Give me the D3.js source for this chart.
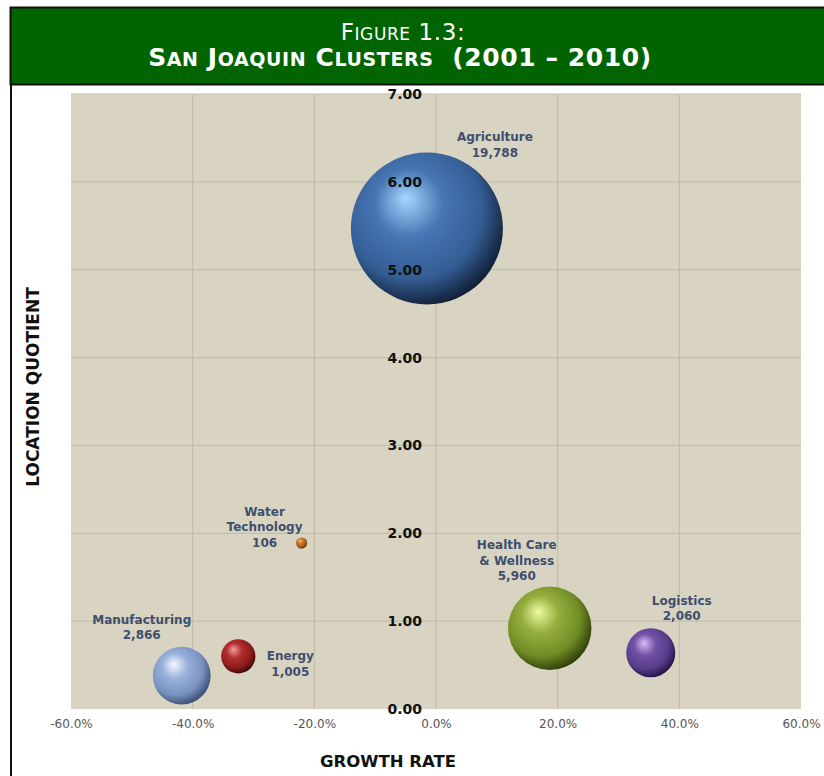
<!DOCTYPE html>
<html>
<head>
<meta charset="utf-8">
<script src="https://cdnjs.cloudflare.com/ajax/libs/d3/7.8.5/d3.min.js"></script>
<style>
  html, body { margin: 0; padding: 0; background: #fff; }
  svg { display: block; }
</style>
</head>
<body>
<svg id="chart" width="824" height="776"></svg>
<script>
// ---- data ----
const clusters = ["Agriculture", "Water Technology", "Manufacturing", "Energy", "Health Care & Wellness", "Logistics"];
const labelLines = [["Agriculture"], ["Water", "Technology"], ["Manufacturing"], ["Energy"], ["Health Care", "& Wellness"], ["Logistics"]];
const growthRate = [-0.015, -0.221, -0.418, -0.325, 0.187, 0.353];
const locationQuotient = [5.47, 1.89, 0.38, 0.60, 0.92, 0.64];
const employment = [19788, 106, 2866, 1005, 5960, 2060];
const xTicks = [-0.6, -0.4, -0.2, 0, 0.2, 0.4, 0.6];
const yTicks = [0, 1, 2, 3, 4, 5, 6, 7];
const bubbleColors = [
  ["#a6d6ff", "#4676b4", "#345d94", "#0e1a2e"],
  ["#f8c080", "#d07a2c", "#a85c18", "#4a2404"],
  ["#f4f8ff", "#98b0da", "#7a92c0", "#36466a"],
  ["#f4a0a0", "#b42e2e", "#8e1c1c", "#3a0606"],
  ["#eefaa0", "#94ae3e", "#728c26", "#283806"],
  ["#d8bcf6", "#7252a6", "#583c8a", "#200e40"]
];
// label anchor offsets relative to bubble centre (px)
const labelPos = [
  {dx: 68, dy: -87},
  {dx: -37, dy: -27},
  {dx: -40, dy: -52},
  {dx: 52, dy: 4},
  {dx: -33, dy: -79},
  {dx: 31, dy: -48}
];

const svg = d3.select("#chart");
const font = "'DejaVu Sans', Verdana, sans-serif";

// ---- header ----
svg.append("rect").attr("x", 10.5).attr("y", 7.5).attr("width", 820).attr("height", 77)
  .attr("fill", "#006400").attr("stroke", "#111").attr("stroke-width", 2);
svg.append("line").attr("x1", 11).attr("x2", 11).attr("y1", 85).attr("y2", 776)
  .attr("stroke", "#111").attr("stroke-width", 2);

function smallCaps(sel, str, big, small) {
  const runs = str.match(/[a-z]+|[^a-z]+/g);
  runs.forEach(run => {
    const isLower = /^[a-z]/.test(run);
    sel.append("tspan").style("font-size", (isLower ? small : big) + "px")
      .text(isLower ? run.toUpperCase() : run);
  });
}
const t1 = svg.append("text").attr("x", 403).attr("y", 40).attr("text-anchor", "middle")
  .attr("fill", "#fff").style("font-family", font)
  .style("letter-spacing", "0.6px");
smallCaps(t1, "Figure 1.3:", 23, 17);
const t2 = svg.append("text").attr("x", 400).attr("y", 66).attr("text-anchor", "middle")
  .attr("fill", "#fff").style("font-family", font).style("font-weight", "bold")
  .style("letter-spacing", "0.6px").style("white-space", "pre");
smallCaps(t2, "San Joaquin Clusters  (2001 \u2013 2010)", 25, 19);

// ---- plot ----
const pLeft = 71, pRight = 801, pTop = 94, pBottom = 709;
const x = d3.scaleLinear().domain([-0.6, 0.6]).range([pLeft, pRight]);
const y = d3.scaleLinear().domain([0, 7]).range([pBottom, pTop]);
const r = d3.scaleSqrt().domain([0, d3.max(employment)]).range([0, 76]);

svg.append("rect").attr("x", pLeft).attr("y", pTop).attr("width", pRight - pLeft).attr("height", pBottom - pTop)
  .attr("fill", "#d9d4c2");

const g = svg.append("g");
g.selectAll(".vgrid").data(xTicks.slice(1, -1)).join("line")
  .attr("x1", d => x(d)).attr("x2", d => x(d)).attr("y1", pTop).attr("y2", pBottom)
  .attr("stroke", "#c2beac").attr("stroke-width", 1.2);
g.selectAll(".hgrid").data(yTicks.slice(1)).join("line")
  .attr("x1", pLeft).attr("x2", pRight).attr("y1", d => y(d)).attr("y2", d => y(d))
  .attr("stroke", "#c2beac").attr("stroke-width", 1.2);

// x tick labels
const pct = d => d3.format(".1%")(d).replace("\u2212", "-");
const xAxis = d3.axisBottom(x).tickValues(xTicks).tickFormat(pct).tickSize(0).tickPadding(10);
const xg = svg.append("g").attr("transform", `translate(0,${pBottom})`).call(xAxis);
xg.select(".domain").remove();
xg.selectAll("text").attr("fill", "#555").style("font-family", font).style("font-size", "12px");

// gradients
const defs = svg.append("defs");
bubbleColors.forEach((c, i) => {
  const gr = defs.append("radialGradient").attr("id", "grad" + i)
    .attr("cx", "0.42").attr("cy", "0.4").attr("r", "0.64").attr("fx", "0.36").attr("fy", "0.3");
  gr.append("stop").attr("offset", "0%").attr("stop-color", c[0]);
  gr.append("stop").attr("offset", "35%").attr("stop-color", c[1]);
  gr.append("stop").attr("offset", "72%").attr("stop-color", c[2]);
  gr.append("stop").attr("offset", "100%").attr("stop-color", c[3]);
});

const data = clusters.map((name, i) => ({
  name, i, gx: growthRate[i], lq: locationQuotient[i], emp: employment[i], lines: labelLines[i]
}));

svg.append("g").selectAll("circle").data(data).join("circle")
  .attr("cx", d => x(d.gx)).attr("cy", d => y(d.lq)).attr("r", d => r(d.emp))
  .attr("fill", d => `url(#grad${d.i})`);

// y tick labels along x = 0
const yAxis = d3.axisLeft(y).tickValues(yTicks).tickFormat(d3.format(".2f")).tickSize(0).tickPadding(14);
const yg = svg.append("g").attr("transform", `translate(${x(0)},0)`).call(yAxis);
yg.select(".domain").remove();
yg.selectAll("text").attr("fill", "#111").style("font-family", font)
  .style("font-size", "14px").style("font-weight", "bold");

// bubble labels
const lab = svg.append("g").selectAll("text").data(data).join("text")
  .attr("text-anchor", "middle")
  .attr("fill", "#3e4f6e")
  .style("font-family", font)
  .style("font-size", "12px").style("font-weight", "bold")
  .attr("transform", d => `translate(${x(d.gx) + labelPos[d.i].dx},${y(d.lq) + labelPos[d.i].dy})`);
lab.each(function(d) {
  const t = d3.select(this);
  const all = d.lines.concat([d3.format(",")(d.emp)]);
  all.forEach((line, k) => {
    t.append("tspan").attr("x", 0).attr("y", k * 15.5).text(line);
  });
});

// axis titles
svg.append("text").attr("x", 388).attr("y", 767).attr("text-anchor", "middle")
  .attr("fill", "#111").style("font-family", font)
  .style("font-size", "16.5px").style("font-weight", "bold").text("GROWTH RATE");
svg.append("text").attr("transform", "translate(39,387) rotate(-90)").attr("text-anchor", "middle")
  .attr("fill", "#111").style("font-family", font)
  .style("font-size", "17px").style("font-weight", "bold").text("LOCATION QUOTIENT");
</script>
</body>
</html>
